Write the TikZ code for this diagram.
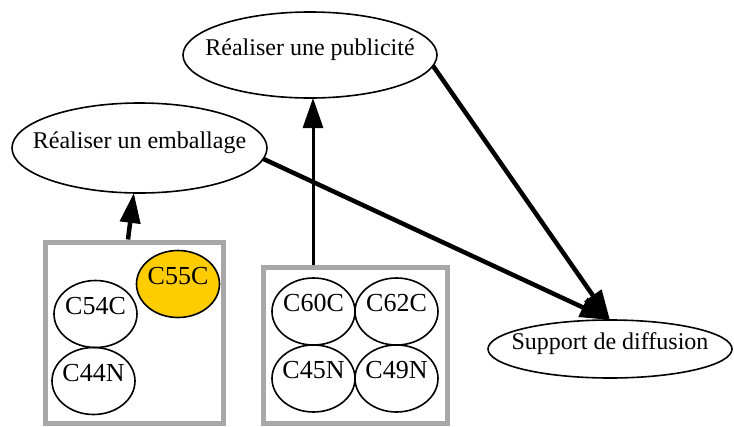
\documentclass[tikz,border=0pt]{standalone}
\usepackage{fontspec}
\setmainfont{Liberation Serif}
\usetikzlibrary{arrows.meta, shapes.geometric, positioning}
\definecolor{clGray}{HTML}{A8A8A8}
\definecolor{clGold}{HTML}{FFCC00}
\newcommand{\nlbl}[1]{\makebox[0pt]{#1}}
\tikzset{
  task/.style={
    draw, ellipse, line width=1.6pt, inner sep=0pt, outer sep=0pt,
    text height=0pt, text depth=0pt, font=\fontsize{24}{28}\selectfont
  },
  comp/.style={task, minimum width=83pt, minimum height=67pt, font=\fontsize{26}{30}\selectfont},
  compC/.style={comp, fill=clGold},
  cluster/.style={draw=clGray, line width=5pt, inner sep=0pt},
  flow/.style={line width=4.5pt, -{Triangle[length=30pt, width=20pt]}}
}

\begin{document}
\begin{tikzpicture}[x=1pt, y=-1pt]
  \useasboundingbox (0,0) rectangle (734,426);
  % tasks
  \node[task, minimum width=254pt, minimum height=86pt] (pub) at (310,55) {\nlbl{Réaliser une publicité}};
  \node[task, minimum width=255pt, minimum height=90pt] (emb) at (139.5,148) {\nlbl{Réaliser un emballage}};
  \node[task, minimum width=244pt, minimum height=58pt] (sup) at (610,349) {\nlbl{Support de diffusion}};
  % clusters
  \node[cluster, minimum width=178pt, minimum height=181pt] (clA) at (134,332.5) {};
  \node[cluster, minimum width=184pt, minimum height=156pt] (clB) at (355,345) {};
  \node[compC] (c55) at (178,284) {\nlbl{C55C}};
  \node[comp] (c54) at (95.5,314) {\nlbl{C54C}};
  \node[comp, below=0pt of c54, xshift=-2pt] (c44) {\nlbl{C44N}};
  \node[comp] (c60) at (313.5,311.5) {\nlbl{C60C}};
  \node[comp, right=0pt of c60] (c62) {\nlbl{C62C}};
  \node[comp, below=0pt of c60] (c45) {\nlbl{C45N}};
  \node[comp, below=0pt of c62] (c49) {\nlbl{C49N}};
  % links
  \draw[flow] ([xshift=-6pt]clA.north) -- (emb);
  \draw[flow, line width=3pt] ([xshift=-42pt]clB.north) -- ([xshift=3pt]pub.south);
  \draw[flow] (emb.-5) -- (sup.north);
  \draw[flow] (pub.-5) -- (sup.north);
\end{tikzpicture}
\end{document}
